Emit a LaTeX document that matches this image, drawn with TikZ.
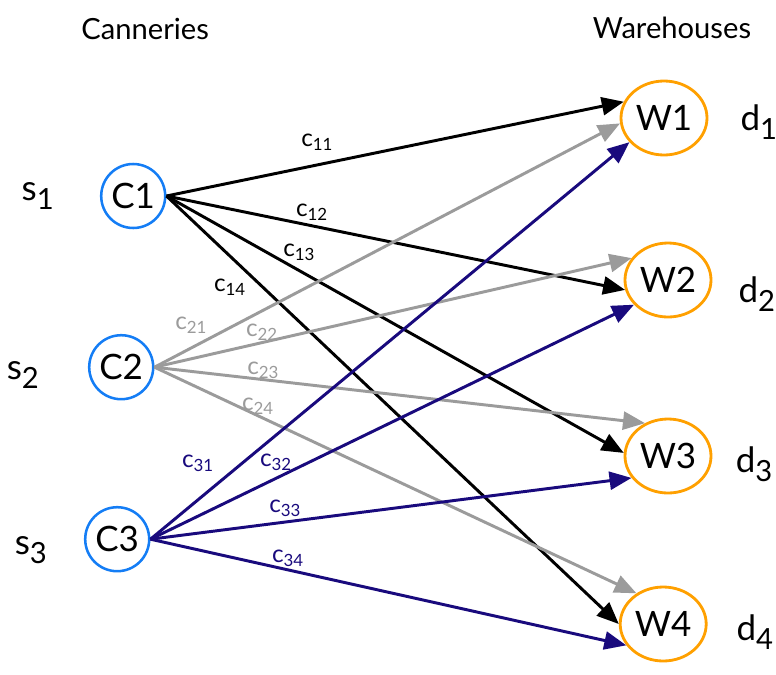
\documentclass[tikz,border=0pt]{standalone}
\usepackage{fontspec}
\setmainfont{Lato}
\usepackage{xcolor}
\usetikzlibrary{shapes.geometric, arrows.meta, positioning}
\definecolor{cblue}{RGB}{20,125,245}
\definecolor{worange}{RGB}{255,160,0}
\definecolor{navy}{RGB}{25,10,125}
\definecolor{lgray}{RGB}{155,155,155}

\begin{document}
\begin{tikzpicture}[
	% Styles
	carrier/.style = {draw=cblue, circle, line width=1.8pt, minimum size=16mm, inner sep=0pt, font=\Huge},
	house/.style = {draw=worange, ellipse, line width=2pt, minimum width=21.5mm, minimum height=18.5mm, inner sep=0pt, font=\Huge},
	title/.style = {font=\huge},
	sig/.style = {font=\Huge},
	cost/.style = {font=\LARGE},
	flow/.style = {line width=2.1pt, -{Triangle[length=5.5mm, width=4.5mm]}}
	]
	\useasboundingbox (0,0) rectangle (19.4,-16.85);
	
	% Column titles
	\node[title] (tc) at (3.63,-0.73) {Canneries};
	\node[title] (tw) at (16.8,-0.7) {Warehouses};
	
	% Canneries with supplies
	\node[carrier] (c1) at (3.33,-4.9) {C1};
	\node[carrier] (c2) at (3.03,-9.18) {C2};
	\node[carrier] (c3) at (2.93,-13.48) {C3};
	\node[sig] (s1) at (0.95,-4.9) {s\textsubscript{1}};
	\node[sig] (s2) at (0.58,-9.38) {s\textsubscript{2}};
	\node[sig] (s3) at (0.78,-13.75) {s\textsubscript{3}};
	
	% Warehouses with demands
	\node[house] (w1) at (16.6,-2.95) {W1};
	\node[house] (w2) at (16.7,-7.0) {W2};
	\node[house] (w3) at (16.7,-11.4) {W3};
	\node[house] (w4) at (16.58,-15.6) {W4};
	\node[sig] (d1) at (18.98,-3.05) {d\textsubscript{1}};
	\node[sig] (d2) at (18.93,-7.35) {d\textsubscript{2}};
	\node[sig] (d3) at (18.86,-11.6) {d\textsubscript{3}};
	\node[sig] (d4) at (18.88,-15.8) {d\textsubscript{4}};
	
	% Paths from C1
	\draw[flow] (c1.east) -- (w1.158);
	\draw[flow] (c1.east) -- (w2.193);
	\draw[flow] (c1.east) -- (w3.176);
	\draw[flow] (c1.east) -- (w4.180);
	
	% Paths from C2
	\draw[flow, lgray] (c2.east) -- (w1.187);
	\draw[flow, lgray] (c2.east) -- (w2.149);
	\draw[flow, lgray] (c2.east) -- (w3.125);
	\draw[flow, lgray] (c2.east) -- (w4.131);
	
	% Paths from C3
	\draw[flow, navy] (c3.east) -- (w1.215);
	\draw[flow, navy] (c3.east) -- (w2.216);
	\draw[flow, navy] (c3.east) -- (w3.211);
	\draw[flow, navy] (c3.east) -- (w4.210);
	
	% Unit costs
	\node[cost] (l11) at (7.93,-3.55) {c\textsubscript{11}};
	\node[cost] (l12) at (7.8,-5.3) {c\textsubscript{12}};
	\node[cost] (l13) at (7.48,-6.3) {c\textsubscript{13}};
	\node[cost] (l14) at (5.75,-7.18) {c\textsubscript{14}};
	\node[cost, lgray] (l21) at (4.78,-8.13) {c\textsubscript{21}};
	\node[cost, lgray] (l22) at (6.55,-8.3) {c\textsubscript{22}};
	\node[cost, lgray] (l23) at (6.58,-9.25) {c\textsubscript{23}};
	\node[cost, lgray] (l24) at (6.45,-10.15) {c\textsubscript{24}};
	\node[cost, navy] (l31) at (4.95,-11.58) {c\textsubscript{31}};
	\node[cost, navy] (l32) at (6.9,-11.55) {c\textsubscript{32}};
	\node[cost, navy] (l33) at (7.13,-12.7) {c\textsubscript{33}};
	\node[cost, navy] (l34) at (7.2,-13.95) {c\textsubscript{34}};
	
\end{tikzpicture}
\end{document}
